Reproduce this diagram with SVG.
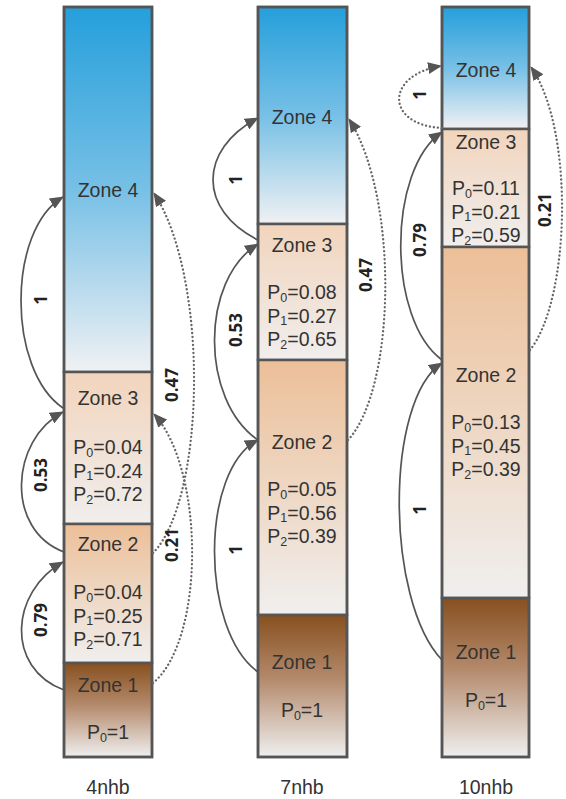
<svg xmlns="http://www.w3.org/2000/svg" width="566" height="799" viewBox="0 0 566 799">
  <defs>
    <linearGradient id="gBlue" x1="0" y1="0" x2="0" y2="1">
      <stop offset="0" stop-color="#259fdb"/>
      <stop offset="0.5" stop-color="#77c0e6"/>
      <stop offset="1" stop-color="#f0f1f3"/>
    </linearGradient>
    <linearGradient id="gPeachLight" x1="0" y1="0" x2="0" y2="1">
      <stop offset="0" stop-color="#f2d4bc"/>
      <stop offset="1" stop-color="#f0eeed"/>
    </linearGradient>
    <linearGradient id="gPeach" x1="0" y1="0" x2="0" y2="1">
      <stop offset="0" stop-color="#ecbf98"/>
      <stop offset="1" stop-color="#f0efee"/>
    </linearGradient>
    <linearGradient id="gBrown" x1="0" y1="0" x2="0" y2="1">
      <stop offset="0" stop-color="#87501f"/>
      <stop offset="0.45" stop-color="#b48a6c"/>
      <stop offset="1" stop-color="#efefef"/>
    </linearGradient>
    <marker id="arrow" viewBox="0 0 14 12" refX="13" refY="6" markerWidth="14" markerHeight="12" markerUnits="userSpaceOnUse" orient="auto">
      <path d="M0,0 L14,6 L0,12 z" fill="#555"/>
    </marker>
  </defs>
  <style>
    .zone { stroke: #555; stroke-width: 2.5; }
    .frame { fill: none; stroke: #555; stroke-width: 2.5; }
    .t { font-family: "Liberation Sans", Arial, sans-serif; font-size: 19.5px; fill: #333; text-anchor: middle; }
    .sub { font-size: 12.5px; }
    .lbl { font-family: "Open Sans", "Noto Sans", sans-serif; font-size: 17px; font-weight: bold; fill: #222; text-anchor: middle; }
    .solid { fill: none; stroke: #555; stroke-width: 1.7; marker-end: url(#arrow); }
    .dot { fill: none; stroke: #666; stroke-width: 2.3; stroke-dasharray: 0.1 3.9; stroke-linecap: round; marker-end: url(#arrow); }
  </style>

  <rect width="566" height="799" fill="#ffffff"/>

  <!-- 4nhb column -->
  <g id="c4-zone4">
    <rect class="zone" x="64" y="7" width="88" height="365" fill="url(#gBlue)"/>
    <text class="t" x="108" y="197">Zone 4</text>
  </g>
  <g id="c4-zone3">
    <rect class="zone" x="64" y="372" width="88" height="152" fill="url(#gPeachLight)"/>
    <text class="t" x="108" y="405">Zone 3</text>
    <text class="t" x="108" y="454">P<tspan class="sub" dy="2.5">0</tspan><tspan dy="-2.5">=0.04</tspan></text>
    <text class="t" x="108" y="477.5">P<tspan class="sub" dy="2.5">1</tspan><tspan dy="-2.5">=0.24</tspan></text>
    <text class="t" x="108" y="501">P<tspan class="sub" dy="2.5">2</tspan><tspan dy="-2.5">=0.72</tspan></text>
  </g>
  <g id="c4-zone2">
    <rect class="zone" x="64" y="524" width="88" height="139" fill="url(#gPeach)"/>
    <text class="t" x="108" y="551">Zone 2</text>
    <text class="t" x="108" y="599">P<tspan class="sub" dy="2.5">0</tspan><tspan dy="-2.5">=0.04</tspan></text>
    <text class="t" x="108" y="622.5">P<tspan class="sub" dy="2.5">1</tspan><tspan dy="-2.5">=0.25</tspan></text>
    <text class="t" x="108" y="646">P<tspan class="sub" dy="2.5">2</tspan><tspan dy="-2.5">=0.71</tspan></text>
  </g>
  <g id="c4-zone1">
    <rect class="zone" x="64" y="663" width="88" height="94" fill="url(#gBrown)"/>
    <text class="t" x="108" y="692">Zone 1</text>
    <text class="t" x="108" y="739">P<tspan class="sub" dy="2.5">0</tspan><tspan dy="-2.5">=1</tspan></text>
  </g>
  <rect class="frame" x="64" y="7" width="88" height="750"/>
  <text class="t" x="108" y="794">4nhb</text>

  <!-- 7nhb column -->
  <g id="c7-zone4">
    <rect class="zone" x="258" y="7" width="89" height="217" fill="url(#gBlue)"/>
    <text class="t" x="302" y="124">Zone 4</text>
  </g>
  <g id="c7-zone3">
    <rect class="zone" x="258" y="224" width="89" height="136" fill="url(#gPeachLight)"/>
    <text class="t" x="302" y="252">Zone 3</text>
    <text class="t" x="302" y="299">P<tspan class="sub" dy="2.5">0</tspan><tspan dy="-2.5">=0.08</tspan></text>
    <text class="t" x="302" y="322.5">P<tspan class="sub" dy="2.5">1</tspan><tspan dy="-2.5">=0.27</tspan></text>
    <text class="t" x="302" y="346">P<tspan class="sub" dy="2.5">2</tspan><tspan dy="-2.5">=0.65</tspan></text>
  </g>
  <g id="c7-zone2">
    <rect class="zone" x="258" y="360" width="89" height="255" fill="url(#gPeach)"/>
    <text class="t" x="302" y="449">Zone 2</text>
    <text class="t" x="302" y="496">P<tspan class="sub" dy="2.5">0</tspan><tspan dy="-2.5">=0.05</tspan></text>
    <text class="t" x="302" y="519.5">P<tspan class="sub" dy="2.5">1</tspan><tspan dy="-2.5">=0.56</tspan></text>
    <text class="t" x="302" y="543">P<tspan class="sub" dy="2.5">2</tspan><tspan dy="-2.5">=0.39</tspan></text>
  </g>
  <g id="c7-zone1">
    <rect class="zone" x="258" y="615" width="89" height="142" fill="url(#gBrown)"/>
    <text class="t" x="302" y="669">Zone 1</text>
    <text class="t" x="302" y="717">P<tspan class="sub" dy="2.5">0</tspan><tspan dy="-2.5">=1</tspan></text>
  </g>
  <rect class="frame" x="258" y="7" width="89" height="750"/>
  <text class="t" x="302" y="794">7nhb</text>

  <!-- 10nhb column -->
  <g id="c10-zone4">
    <rect class="zone" x="442" y="7" width="87" height="122" fill="url(#gBlue)"/>
    <text class="t" x="486" y="77">Zone 4</text>
  </g>
  <g id="c10-zone3">
    <rect class="zone" x="442" y="129" width="87" height="118" fill="url(#gPeachLight)"/>
    <text class="t" x="486" y="149">Zone 3</text>
    <text class="t" x="486" y="195">P<tspan class="sub" dy="2.5">0</tspan><tspan dy="-2.5">=0.11</tspan></text>
    <text class="t" x="486" y="218.5">P<tspan class="sub" dy="2.5">1</tspan><tspan dy="-2.5">=0.21</tspan></text>
    <text class="t" x="486" y="242">P<tspan class="sub" dy="2.5">2</tspan><tspan dy="-2.5">=0.59</tspan></text>
  </g>
  <g id="c10-zone2">
    <rect class="zone" x="442" y="247" width="87" height="351" fill="url(#gPeach)"/>
    <text class="t" x="486" y="382">Zone 2</text>
    <text class="t" x="486" y="429">P<tspan class="sub" dy="2.5">0</tspan><tspan dy="-2.5">=0.13</tspan></text>
    <text class="t" x="486" y="452.5">P<tspan class="sub" dy="2.5">1</tspan><tspan dy="-2.5">=0.45</tspan></text>
    <text class="t" x="486" y="476">P<tspan class="sub" dy="2.5">2</tspan><tspan dy="-2.5">=0.39</tspan></text>
  </g>
  <g id="c10-zone1">
    <rect class="zone" x="442" y="598" width="87" height="159" fill="url(#gBrown)"/>
    <text class="t" x="486" y="659">Zone 1</text>
    <text class="t" x="486" y="707">P<tspan class="sub" dy="2.5">0</tspan><tspan dy="-2.5">=1</tspan></text>
  </g>
  <rect class="frame" x="442" y="7" width="87" height="750"/>
  <text class="t" x="486" y="794">10nhb</text>

  <!-- transitions between zones -->
  <g id="connectors">
    <!-- 4nhb -->
    <path class="solid" d="M64,690 C5,668 10,592 63,562"/>
    <path class="solid" d="M64,552 C5,530 10,440 63,412"/>
    <path class="solid" d="M63,408 C7,370 7,230 63,197"/>
    <path class="dot" d="M153,553 C205,500 210,280 154,193"/>
    <path class="dot" d="M153,683 C205,640 205,470 154,414"/>
    <!-- 7nhb -->
    <path class="solid" d="M258,672 C200,630 200,470 258,440"/>
    <path class="solid" d="M258,440 C200,400 200,280 258,244"/>
    <path class="solid" d="M258,240 C198,210 198,150 258,118"/>
    <path class="dot" d="M348,440 C395,390 400,200 349,119"/>
    <!-- 10nhb -->
    <path class="solid" d="M442,660 C385,600 385,400 442,363"/>
    <path class="solid" d="M442,360 C387,320 387,170 442,132"/>
    <path class="dot" d="M442,128 C385,125 385,75 441,66"/>
    <path class="dot" d="M530,350 C570,300 575,130 531,67"/>
  </g>

  <!-- transition probabilities -->
  <g id="labels">
    <text class="lbl" transform="translate(47,300) rotate(-90)">1</text>
    <text class="lbl" transform="translate(47,475) rotate(-90)">0.53</text>
    <text class="lbl" transform="translate(47,620) rotate(-90)">0.79</text>
    <text class="lbl" transform="translate(178,385) rotate(-90)">0.47</text>
    <text class="lbl" transform="translate(178,545) rotate(-90)">0.21</text>
    <text class="lbl" transform="translate(242,180) rotate(-90)">1</text>
    <text class="lbl" transform="translate(242,330) rotate(-90)">0.53</text>
    <text class="lbl" transform="translate(242,550) rotate(-90)">1</text>
    <text class="lbl" transform="translate(372,275) rotate(-90)">0.47</text>
    <text class="lbl" transform="translate(426,95) rotate(-90)">1</text>
    <text class="lbl" transform="translate(426,240) rotate(-90)">0.79</text>
    <text class="lbl" transform="translate(426,510) rotate(-90)">1</text>
    <text class="lbl" transform="translate(551,210) rotate(-90)">0.21</text>
  </g>
</svg>
